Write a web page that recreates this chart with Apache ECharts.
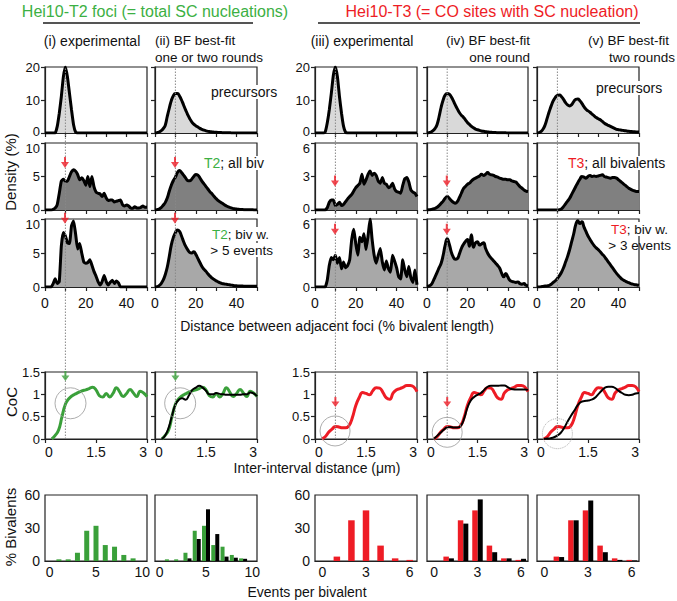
<!DOCTYPE html>
<html><head><meta charset="utf-8">
<script src="https://cdn.jsdelivr.net/npm/echarts@6/dist/echarts.min.js"></script>
<style>html,body{margin:0;padding:0;background:#fff}#c{width:677px;height:601px}</style>
</head><body><div id="c"></div>
<script>
// ---------- DATA ----------
const distX = Array.from({length:51},(_,i)=>i); // 0..50 % bivalent length

// Row 1: precursors
const precT2Exp = [0,0,0,0,0,0,2,6,11,17, 20,17,12,7,2.5,0.3,0,0,0,0, 0,0,0,0,0,0,0,0,0,0, 0,0,0,0,0,0,0,0,0,0, 0,0,0,0,0,0,0,0,0,0,0];
const precT2BF  = [0,0.1,0.3,0.7,1.3,2.3,5,7.5,9.8,11.3, 12,12,11.2,10,8.5,7,5.6,4.4,3.4,2.7, 2.2,1.8,1.4,1.1,0.85,0.65,0.5,0.4,0.3,0.25, 0.2,0.16,0.13,0.1,0.08,0.06,0.05,0.04,0.03,0.03, 0.02,0.02,0.02,0.01,0.01,0.01,0.01,0,0,0,0];
const precT3Exp = [0,0,0,0,0,0.3,3,7,12,17.5, 20,17,11,6,2,0.2,0,0,0,0, 0,0,0,0,0,0,0,0,0,0, 0,0,0,0,0,0,0,0,0,0, 0,0,0,0,0,0,0,0,0,0,0];
const precT3BF1 = [0,0.1,0.3,0.7,1.4,2.6,5,7.8,10,11.5, 12,11.8,11,9.8,8.5,7.3,6.2,5.4,4.8,4, 3.2,2.6,2,1.6,1.2,1,0.8,0.6,0.5,0.4, 0.3,0.25,0.2,0.15,0.12,0.1,0.08,0.06,0.05,0.04, 0.03,0.03,0.02,0.02,0.01,0.01,0.01,0,0,0,0];
const precT3BF2 = [0,0.1,0.5,1.2,2.5,4.5,6.5,8.3,9.8,10.8, 11.4,11.5,11,10.2,9.2,8.5,8.2,8.6,9.5,10.2, 10.3,9.8,9,8,7.2,6.7,6.3,5.7,5.2,4.7, 4.3,4,3.5,3,2.6,2.3,2,1.7,1.4,1.1, 1,0.9,0.8,0.7,0.6,0.5,0.45,0.4,0.35,0.3,0.3];

// Row 2: all bivalents
const allT2Exp = [0,0,0,0,0.1,0.3,0.8,2.5,4.3,4.6, 4.3,4.3,5,5.7,6,5.8,5.3,4.5,4.8,4.4, 3.7,5,3.5,5,3.5,2.7,2.5,2.4,2,2.5, 1.8,1.4,1.5,1.5,1.2,1.3,1.4,1.5,0.8,0.6, 0.75,0.6,0.3,0.25,0.5,0.3,0.3,0.4,0.6,0.4,0.4];
const allT2BF  = [0,0.05,0.15,0.35,0.7,1.1,1.8,2.8,3.7,4.4, 4.9,5.6,5.9,5.6,5.2,4.8,4.4,4.35,4.6,5, 5.3,5.2,4.8,4.3,3.9,3.5,3.1,2.7,2.4,2, 1.7,1.4,1.2,1,0.8,0.6,0.45,0.35,0.25,0.18, 0.14,0.1,0.08,0.06,0.05,0.04,0.03,0.02,0.02,0.01,0.01];
const allT3Exp = [0,0,0,0,0,0,0.2,0.7,0.9,0.9, 0.4,0.5,0.7,0.4,0.5,0.75,1,1.2,1.4,1.7, 2,2.2,2.4,3.2,2.3,2.7,3.2,3.5,3.1,3.3, 3.1,2.6,2.4,2.9,2.4,2.3,2,2.1,2.4,1.9, 1.65,1.6,1.5,2.2,2.8,2.9,2.5,1.8,1.6,1.5,1.2];
const allT3BF1 = [0,0.02,0.05,0.1,0.15,0.25,0.4,0.6,0.8,1.05, 1.2,1.05,0.85,0.7,0.6,0.75,1.1,1.5,1.9,2.1, 2.3,2.4,2.6,2.75,2.85,2.95,3.05,3.2,3.1,3.2, 3.35,3.2,3.15,3.1,3,2.95,2.85,2.8,2.75,2.75, 2.7,2.7,2.6,2.55,2.5,2.3,2.1,1.95,1.8,1.7,1.65];
const allT3BF2 = [0,0,0,0,0,0,0,0,0,0, 0,0.02,0.1,0.3,0.55,0.8,1.05,1.4,1.75,2.1, 2.45,2.75,3,2.95,2.85,3,3.1,3,3.05,3, 3.05,3.1,3.15,3,2.95,2.9,2.85,2.9,2.9,2.85, 2.7,2.55,2.4,2.25,2.1,1.95,1.85,1.75,1.7,1.65,1.65];

// Row 3: bivalents with many events
const gtT2Exp = [0,0,0,0,0.5,1.2,0.5,0.8,6,8, 7.5,6.5,6.4,9,9.7,7.8,5.6,6.4,5,3.7, 3.5,3.6,4,3.2,2.3,1.6,0.8,0.3,0.8,1.7, 0.8,0.3,0.7,1,0.5,0.9,0.6,0,0,0, 0,0,0,0,0,0,0,0,0,0,0];
const gtT2BF  = [0,0.05,0.2,0.5,1,1.8,2.9,4.5,6.2,7.3, 8,8.4,8.2,7.5,6.7,6,5.5,5.1,5,5.2, 4.8,4.2,3.6,3,2.6,2.3,1.9,1.6,1.3,1.1, 0.9,0.75,0.6,0.5,0.45,0.4,0.35,0.3,0.25,0.2, 0.18,0.15,0.14,0.13,0.12,0.11,0.1,0.1,0.1,0.1,0.1];
const gtT3Exp = [0,0,0,0,0,0,0.6,1.9,2.6,2.4, 2.8,2.1,2.6,1.6,2.2,1.7,1.9,2.4,4.2,5.1, 3.8,2.8,4.4,4,4.7,3.3,4.5,6,4.2,2.8, 2.1,2.8,3.4,2.2,1.5,2.3,1.6,1.3,2.8,2.3, 1.7,0.9,0.7,2.4,1.5,0.9,1.8,0.8,0.4,1.5,0.2];
const gtT3BF1 = [0.05,0.1,0.2,0.5,0.9,1.3,1.7,2.1,2.8,3.7, 4.25,3.8,3.1,2.65,2.45,2.5,2.9,3.4,3.75,4, 4.2,3.6,4.6,3.5,3.9,4,3.7,3.8,3.9,3.4, 3,2.7,2.5,2.3,2.1,1.9,1.65,1.2,0.9,1.2, 0.9,0.6,0.5,0.45,0.4,0.45,0.3,0.25,0.3,0.15,0.1];
const gtT3BF2 = [0,0,0.02,0.05,0.08,0.1,0.15,0.25,0.4,0.55, 0.75,1,1.3,1.7,2.2,2.7,3.3,4,4.7,5.5, 5.85,5.6,5.75,5.3,4.9,4.5,4.2,3.9,3.65,3.45, 3.3,3.1,2.9,2.7,2.45,2.2,1.95,1.7,1.45,1.2, 1,0.8,0.65,0.55,0.45,0.38,0.3,0.25,0.2,0.18,0.15];

// Arrow marks (position along x, height) per density panel
const arrowX = 9.8;
const arrowYT2 = [7.1, 10.1];   // rows 2,3 for T2 panels (i),(ii)
const arrowYT3 = [2.6, 5.1];    // rows 2,3 for T3 panels (iii),(iv)

// CoC curves (x in µm)
const cocX = [0.2,0.3,0.4,0.5,0.6,0.7,0.8,0.9,1.0,1.1,1.2,1.3,1.4,1.5,1.6,1.7,1.8,1.9,2.0,2.1,2.2,2.3,2.4,2.5,2.6,2.7,2.8,2.9,3.0];
const cocT2Exp = [0,0.08,0.2,0.5,0.78,0.9,0.97,1.01,1.05,1.08,1.1,1.13,1.16,1.1,0.97,0.94,1.02,0.94,1.02,1.15,1.05,0.95,1.02,1.11,1.03,0.95,1.07,1.03,0.95];
const cocT2BF  = [0,0.08,0.25,0.52,0.77,0.88,0.91,0.88,0.98,1.1,1.15,1.19,1.15,1.08,1.0,1.0,1.03,1.01,1.0,0.99,0.99,0.99,0.99,0.99,1.0,1.0,1.04,1.02,0.96];
const cocT3Exp = [0,0.05,0.15,0.22,0.28,0.27,0.25,0.25,0.3,0.48,0.75,0.93,1.04,1.02,0.99,1.08,1.15,1.14,1.04,0.92,0.89,1.03,1.1,1.13,1.16,1.2,1.2,1.17,1.06];
const cocT3BF1 = [0,0.07,0.14,0.21,0.26,0.27,0.26,0.26,0.29,0.45,0.7,0.86,0.94,0.99,1.03,1.1,1.17,1.19,1.19,1.19,1.2,1.2,1.16,1.12,1.11,1.11,1.11,1.11,1.1];
const cocT3BF2 = [0,0.01,0.02,0.04,0.08,0.14,0.25,0.39,0.52,0.64,0.76,0.83,0.85,0.86,0.88,0.92,1.0,1.08,1.15,1.17,1.17,1.14,1.08,1.03,0.99,0.98,0.99,1.02,1.03];
const cocArrowX = 0.6;
const cocArrowY = [1.41, 1.41, 0.83, 0.83];
const circleCentres = [[0.75,0.8],[0.74,0.8],[0.59,0.18],[0.6,0.15],[0.6,0.12]];

// Histograms: events per bivalent
const evT2 = ['0','1','2','3','4','5','6','7','8','9','10'];
const histT2Exp = [0,1.5,1.5,7.5,27.5,32,14.5,13,5.5,2.4,0];
const histT2BF  = [0,0,0,2.4,20,47,24.5,4,3,2,0];
const evT3 = ['0','1','2','3','4','5','6'];
const histT3Exp = [0,4,37,46,14,2.4,1];
const histT3BF1 = [0,2.4,34,56,8,2.4,2];
const histT3BF2 = [0,3.6,37,55,8,1,0.5];

// ---------- LAYOUT / STYLE ----------
const FONT = 'Liberation Sans, Arial, sans-serif';
const GREEN = '#3aa03a', GREEN_T = '#3cb043', RED = '#ee1c25';
const colL = [45,155,315,427,537];
const colW = [102,102,102,101,102];
const rowT = [67,143,219,372,495];
const rowH = [66,67,68,67,66];
const fills = ['#d9d9d9','#808080','#a8a8a8'];
const axisCol = '#222';

const grids=[], xAxes=[], yAxes=[], series=[];
function addGrid(c,r){
  grids.push({left:colL[c], top:rowT[r], width:colW[c], height:rowH[r],
    show:true, borderColor:axisCol, borderWidth:1.2, backgroundColor:'transparent'});
  return grids.length-1;
}
const lineAx = {lineStyle:{color:axisCol,width:1.2}};
const tickAx = {length:4, lineStyle:{color:axisCol,width:1.2}};
const lab = (show, extra) => Object.assign({show, fontSize:14, color:'#111', fontFamily:FONT}, extra||{});

const densData = [
  [precT2Exp, precT2BF, precT3Exp, precT3BF1, precT3BF2],
  [allT2Exp, allT2BF, allT3Exp, allT3BF1, allT3BF2],
  [gtT2Exp, gtT2BF, gtT3Exp, gtT3BF1, gtT3BF2]
];
const arrowPath = 'path://M3,0L5,0L5,5L8,5L4,11L0,5L3,5Z';

for(let r=0;r<3;r++){
  for(let c=0;c<5;c++){
    const gi = addGrid(c,r);
    const yMax = r===0 ? 20 : (c<2 ? 10 : 6);
    xAxes.push({gridIndex:gi, type:'value', min:0, max:50, interval:10,
      axisLine:lineAx, axisTick:tickAx, splitLine:{show:false},
      axisLabel:lab(r===2,{margin:9, formatter:v=> (v%20===0 && v<50)? String(v):''})});
    const yLab = lab(c===0||c===2,{margin:5, fontSize:13,
      rich:{t:{fontSize:13, fontFamily:FONT, color:'#111', padding:[10,0,0,0]},
            b:{fontSize:13, fontFamily:FONT, color:'#111', padding:[0,0,4,0]}},
      formatter: v => (r>0 && v===yMax) ? '{t|'+v+'}' : (r<2 && v===0 ? '{b|0}' : String(v))});
    yAxes.push({gridIndex:gi, type:'value', min:0, max:yMax, interval:yMax/2,
      axisLine:lineAx, axisTick:tickAx, splitLine:{show:false}, axisLabel:yLab});
    const smoothBF = (c===1||c===3||c===4);
    series.push({type:'line', xAxisIndex:gi, yAxisIndex:gi, symbol:'none',
      smooth: smoothBF?0.5:0.15, z:2,
      data: distX.map((x,i)=>[x, densData[r][c][i]]),
      lineStyle:{color:'#000', width:3}, areaStyle:{color:fills[r], opacity:1}});
    if(r>0 && c<4){
      const ay = c<2 ? arrowYT2[r-1] : arrowYT3[r-1];
      series.push({type:'scatter', xAxisIndex:gi, yAxisIndex:gi, clip:false, z:6,
        symbol:arrowPath, symbolSize:[8,11], itemStyle:{color:RED}, data:[[arrowX, ay]]});
    }
  }
}

// CoC row
const cocSets = [
  [[cocT2Exp, GREEN, 3]],
  [[cocT2Exp, GREEN, 3],[cocT2BF,'#000',2]],
  [[cocT3Exp, RED, 3]],
  [[cocT3Exp, RED, 3],[cocT3BF1,'#000',2]],
  [[cocT3Exp, RED, 3],[cocT3BF2,'#000',2]]
];
for(let c=0;c<5;c++){
  const gi = addGrid(c,3);
  xAxes.push({gridIndex:gi, type:'value', min:0, max:3, interval:1.5,
    axisLine:lineAx, axisTick:tickAx, splitLine:{show:false},
    axisLabel:lab(true,{margin:6, alignMinLabel:'left', alignMaxLabel:'right'})});
  yAxes.push({gridIndex:gi, type:'value', min:0, max:1.5, interval:0.5,
    axisLine:lineAx, axisTick:tickAx, splitLine:{show:false}, axisLabel:lab(c===0||c===2,{margin:5, fontSize:13})});
  cocSets[c].forEach(([arr,col,w])=>{
    series.push({type:'line', xAxisIndex:gi, yAxisIndex:gi, symbol:'none', smooth:0.5, z:3,
      data: cocX.map((x,i)=>[x, arr[i]]), lineStyle:{color:col, width:w}});
  });
  series.push({type:'scatter', xAxisIndex:gi, yAxisIndex:gi, clip:false, z:4,
    symbol:'circle', symbolSize: c<2?31:30,
    itemStyle:{color:'rgba(0,0,0,0)', borderColor:'#999', borderWidth:1, borderType: c===4?'dotted':'solid'},
    data:[circleCentres[c]]});
  if(c<4){
    series.push({type:'scatter', xAxisIndex:gi, yAxisIndex:gi, clip:false, z:6,
      symbol:arrowPath, symbolSize:[8,10], itemStyle:{color: c<2?GREEN:RED}, data:[[cocArrowX, cocArrowY[c]]]});
  }
}

// Histogram row
const histSets = [
  {cats:evT2, bars:[[histT2Exp,GREEN,5]]},
  {cats:evT2, bars:[[histT2Exp,GREEN,4],[histT2BF,'#000',4]]},
  {cats:evT3, bars:[[histT3Exp,RED,6.5]]},
  {cats:evT3, bars:[[histT3Exp,RED,5.5],[histT3BF1,'#000',5]]},
  {cats:evT3, bars:[[histT3Exp,RED,5.5],[histT3BF2,'#000',5]]}
];
for(let c=0;c<5;c++){
  const gi = addGrid(c,4);
  const h = histSets[c];
  xAxes.push({gridIndex:gi, type:'category', data:h.cats, boundaryGap:true,
    axisLine:lineAx, axisTick:Object.assign({alignWithLabel:true, interval:0}, tickAx),
    splitLine:{show:false}, axisLabel:lab(true,{margin:4, interval: c<2?4:2})});
  yAxes.push({gridIndex:gi, type:'value', min:0, max:60, interval:30,
    axisLine:lineAx, axisTick:tickAx, splitLine:{show:false}, axisLabel:lab(c===0||c===2,{margin:5})});
  h.bars.forEach(([arr,col,w])=>{
    series.push({type:'bar', xAxisIndex:gi, yAxisIndex:gi, data:arr, barWidth:w, barGap:'0%',
      itemStyle:{color:col}, z:2});
  });
}

// Overlay grids for the dotted guide line at 10 % (= 0.6 µm) across density + CoC rows
const guideX = [10, 10];
const guideY = [0, 1];
for(let c=0;c<5;c++){
  grids.push({left:colL[c], top:rowT[0], width:colW[c], height:rowT[3]+rowH[3]-rowT[0], show:false});
  const gi = grids.length-1;
  xAxes.push({gridIndex:gi, type:'value', min:0, max:50, show:false});
  yAxes.push({gridIndex:gi, type:'value', min:0, max:1, show:false});
  series.push({type:'line', xAxisIndex:gi, yAxisIndex:gi, symbol:'none', silent:true, z:3,
    data: guideX.map((x,i)=>[x, guideY[i]]), lineStyle:{color:'#888', width:1, type:[1.5,1.5]}});
}

// ---------- TEXT ----------
function txt(x,y,text,opt){
  opt = opt||{};
  const fs = opt.size||14;
  return {type:'text', x, y, rotation: opt.rot||0, z: 1, silent:true,
    style:{text, fontSize:fs, fontFamily:FONT, fill:opt.fill||'#111',
      align:opt.align||'center', verticalAlign:'middle',
      backgroundColor: opt.bg||'transparent', padding: opt.bg?[0,1]:0,
      rich: {g:{fill:GREEN_T, fontSize:fs, fontFamily:FONT},
             r:{fill:RED, fontSize:fs, fontFamily:FONT},
             n:{fill:'#111', fontSize:fs, fontFamily:FONT}}}};
}
const texts = [
  txt(155,11,'Hei10-T2 foci (= total SC nucleations)',{size:16, fill:GREEN_T}),
  {type:'line', shape:{x1:43,y1:23,x2:253,y2:23}, style:{stroke:'#555', lineWidth:2}},
  txt(492,11,'Hei10-T3 (= CO sites with SC nucleation)',{size:16, fill:RED}),
  {type:'line', shape:{x1:318,y1:23,x2:640,y2:23}, style:{stroke:'#555', lineWidth:2}},
  txt(92,41,'(i) experimental'),
  txt(155,40.5,'(ii) BF best-fit',{align:'left', size:13.5}),
  txt(155,57.5,'one or two rounds',{align:'left', size:13.5}),
  txt(362,41,'(iii) experimental'),
  txt(530,40.5,'(iv) BF best-fit',{align:'right', size:13.5}),
  txt(530,57.5,'one round',{align:'right', size:13.5}),
  txt(669,40.5,'(v) BF best-fit',{align:'right', size:13.5}),
  txt(675,57.5,'two rounds',{align:'right', size:13.5}),
  txt(210,92,'precursors',{align:'left', bg:'#fff'}),
  txt(595,88,'precursors',{align:'left', bg:'#fff'}),
  txt(203,163,'{g|T2}{n|; all biv}',{align:'left', bg:'#fff'}),
  txt(270,234,'{g|T2}{n|; biv w.}',{align:'right', bg:'#fff', size:13.5}),
  txt(274,250,'> 5 events',{align:'right', bg:'#fff', size:13.5}),
  txt(567,163,'{r|T3}{n|; all bivalents}',{align:'left', bg:'#fff'}),
  txt(669,229,'{r|T3}{n|; biv w.}',{align:'right', bg:'#fff', size:13.5}),
  txt(671,245,'> 3 events',{align:'right', size:13.5}),
  txt(10,172,'Density (%)',{size:15, rot:Math.PI/2}),
  txt(337,326,'Distance between adjacent foci (% bivalent length)'),
  txt(11,402,'CoC',{size:15, rot:Math.PI/2}),
  txt(317,468,'Inter-interval distance (μm)'),
  txt(10,527,'% Bivalents',{size:15, rot:Math.PI/2}),
  txt(307,592,'Events per bivalent')
];

const chart = echarts.init(document.getElementById('c'), null, {renderer:'svg'});
chart.setOption({
  animation:false,
  backgroundColor:'#fff',
  textStyle:{fontFamily:FONT},
  grid:grids, xAxis:xAxes, yAxis:yAxes, series,
  graphic:{elements:texts}
});
</script>
</body></html>
